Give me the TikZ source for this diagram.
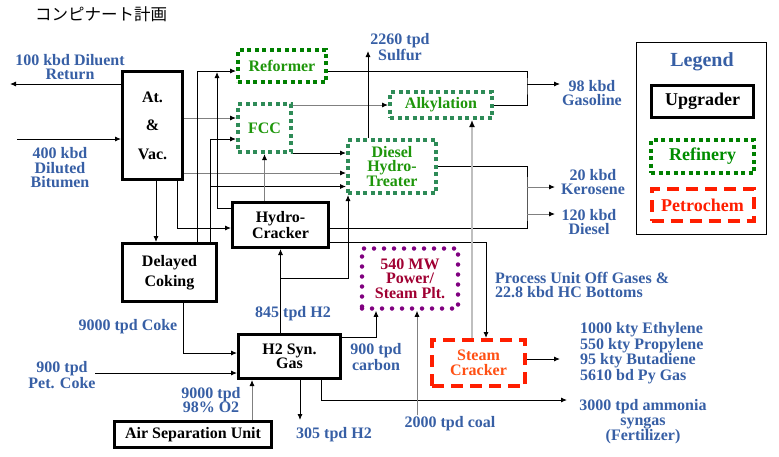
\documentclass[tikz,border=0pt]{standalone}
\usepackage{fontspec}
\setmainfont{Liberation Serif}
\newfontfamily\jpfont{Noto Sans CJK JP}
\usepackage{xcolor}
\usetikzlibrary{positioning,arrows.meta}

\definecolor{lblblue}{RGB}{55,95,165}
\definecolor{refgreen}{RGB}{0,128,0}
\definecolor{unitgreen}{RGB}{46,139,87}
\definecolor{txtgreen}{RGB}{30,150,10}
\definecolor{plantpurple}{RGB}{128,0,128}
\definecolor{planttext}{RGB}{160,0,50}
\definecolor{petred}{RGB}{255,30,0}
\definecolor{pettext}{RGB}{255,80,20}

\begin{document}
\begin{tikzpicture}[
  x=1pt, y=-1pt,
  every node/.style={font=\bfseries\fontsize{16}{14.5}\selectfont, align=center, inner sep=0pt},
  upg/.style={draw, line width=3pt},
  refy/.style={draw=refgreen, line width=4pt, dash pattern=on 4pt off 3.5pt, text=txtgreen},
  unit/.style={refy, draw=unitgreen},
  plant/.style={draw=plantpurple, line width=4.5pt, line cap=round, dash pattern=on 0pt off 10pt, text=planttext},
  petro/.style={draw=petred, line width=4pt, dash pattern=on 12pt off 7pt, text=pettext},
  lbl/.style={text=lblblue},
  arrow/.style={-{Latex[length=6pt,width=5pt]}, line width=0.9pt},
  garrow/.style={-{Latex[length=6pt,width=5pt,black]}, draw=gray, line width=0.9pt},
  larrow/.style={-{Latex[length=7pt,width=6pt,black]}, draw=black!25, line width=2.5pt}
]
\useasboundingbox (0,0) rectangle (779,456);

\node[font=\jpfont\fontsize{16.5}{16.5}\selectfont] (title) at (101,14) {コンピナート計画};

% units
\node[upg, minimum width=60pt, minimum height=108pt] (atv) at (152.5,125.5) {At.\\[14pt]\&\\[14pt]Vac.};
\node[refy, minimum width=88pt, minimum height=32pt] (ref) at (282,66) {Reformer};
\node[unit, minimum width=53pt, minimum height=48pt] (fcc) at (264.5,128) {FCC};
\node[unit, minimum width=102pt, minimum height=26pt] (alky) at (441,105) {Alkylation};
\node[unit, minimum width=88pt, minimum height=53pt] (dht) at (392,166.5) {Diesel\\Hydro-\\Treater};
\node[upg, minimum width=96pt, minimum height=45pt] (hc) at (280.5,225) {Hydro-\\Cracker};
\node[upg, minimum width=94pt, minimum height=58pt] (dc) at (169.5,272.5) {Delayed\\[4pt]Coking};
\node[plant, minimum width=96pt, minimum height=60pt] (pwr) at (410,278.5) {540 MW\\Power/\\Steam Plt.};
\node[upg, minimum width=102pt, minimum height=44pt] (h2) at (289.5,356.5) {H2 Syn.\\Gas};
\node[petro, minimum width=93pt, minimum height=46pt] (sc) at (478.5,363) {Steam\\Cracker};
\node[upg, minimum width=157pt, minimum height=26pt] (asu) at (193,434.5) {Air Separation Unit};

% legend
\node[draw, line width=1pt, minimum width=130pt, minimum height=192pt] (leg) at (701.5,138.5) {};
\node[lbl, font=\bfseries\fontsize{20}{20}\selectfont] (legtitle) at (702,62) {Legend};
\node[upg, minimum width=102pt, minimum height=32pt, font=\bfseries\fontsize{18}{18}\selectfont] (legupg) at (702.5,101.5) {Upgrader};
\node[refy, text=refgreen!90!green, minimum width=103pt, minimum height=33pt, font=\bfseries\fontsize{18}{18}\selectfont, below=19pt of legupg] (legref) {Refinery};
\node[petro, text=petred, minimum width=102pt, minimum height=32pt, font=\bfseries\fontsize{18}{18}\selectfont, below=12pt of legref] (legpet) {Petrochem};

% stream labels
\node[lbl] (dilret) at (70,67) {100 kbd Diluent\\Return};
\node[lbl] (bitu) at (60,168) {400 kbd\\Diluted\\Bitumen};
\node[lbl] (sulf) at (400,47) {2260 tpd\\Sulfur};
\node[lbl] (gaso) at (592,93) {98 kbd\\Gasoline};
\node[lbl] (kero) at (593,182) {20 kbd\\Kerosene};
\node[lbl] (dsl) at (589,222) {120 kbd\\Diesel};
\node[lbl, align=left, anchor=west] (offg) at (495,285) {Process Unit Off Gases \&\\22.8 kbd HC Bottoms};
\node[lbl, align=left, anchor=west] (prods) at (580,353) {1000 kty Ethylene\\550 kty Propylene\\95 kty Butadiene\\5610 bd Py Gas};
\node[lbl] (amm) at (643,422) {3000 tpd ammonia\\syngas\\(Fertilizer)};
\node[lbl] (coal) at (450,424) {2000 tpd coal};
\node[lbl] (h2out) at (334,435) {305 tpd H2};
\node[lbl] (oxy) at (211,400) {9000 tpd\\98\% O2};
\node[lbl] (petc) at (62,375) {900 tpd\\Pet. Coke};
\node[lbl] (coke) at (128,327) {9000 tpd Coke};
\node[lbl] (h2hc) at (293,314) {845 tpd H2};
\node[lbl] (carb) at (376,357) {900 tpd\\carbon};

% free ends and junctions
\coordinate (dilend) at (10,84);
\coordinate (bitstart) at (17,139);
\coordinate (sulfend) at (368,51);
\coordinate (gasbar) at (527,84);
\coordinate (gasend) at (560,84);
\coordinate (kerobar) at (527,187);
\coordinate (keroend) at (555,187);
\coordinate (dslbar) at (527,214);
\coordinate (dslend) at (555,214);
\coordinate (refjoin) at (217,72);
\coordinate (dcrail) at ([xshift=-8pt]dc.north east);
\coordinate (h2split) at (280,278);
\coordinate (prodend) at (560,359);
\coordinate (ammend) at (567,400);
\coordinate (petstart) at (95,373);
\coordinate (h2end) at (300,420);
\coordinate (coalstart) at (417,415);

% crude side
\draw[arrow] (atv.west |- dilend) -- (dilend);
\draw[arrow] (bitstart) -- (bitstart -| atv.west);
\draw[garrow] ([yshift=10pt]fcc.west -| atv.east) -- ([yshift=10pt]fcc.west);
\draw[garrow] ([yshift=-6.5pt]dht.west -| atv.east) -- ([yshift=-6.5pt]dht.west);
\draw[arrow] ([xshift=3.5pt]atv.south) -- ([xshift=3.5pt]atv.south |- dc.north);
\draw[arrow] ([xshift=-7pt]atv.south east) |- ([yshift=-3pt]hc.west);

% coker and cracker feeds
\draw[arrow] ([xshift=-21pt]dc.north east) |- ([yshift=-5pt]ref.west);
\draw[arrow] ([yshift=17pt]hc.west) -| (refjoin);
\draw[arrow] (dcrail) |- ([yshift=-11pt]fcc.west);
\draw[arrow] ([yshift=-20pt]dht.west -| dcrail) -- ([yshift=-20pt]dht.west);
\draw[arrow] ([yshift=13.5pt]dht.west -| fcc.east) -- ([yshift=13.5pt]dht.west);
\draw[garrow] (alky.west -| fcc.east) -- (alky.west);
\draw[garrow] (hc.north -| fcc.south) -- (fcc.south);
\draw[arrow] (dht.north -| sulfend) -- (sulfend);

% products
\draw[line width=0.9pt] ([yshift=-5pt]ref.east) -| (gasbar) |- (alky.east);
\draw[arrow] (gasbar) -- (gasend);
\draw[line width=0.9pt] (dht.east) -| (kerobar) -- (dslbar) |- ([yshift=-3pt]hc.east);
\draw[garrow] (kerobar) -- (keroend);
\draw[garrow] (dslbar) -- (dslend);
\draw[arrow] ([yshift=-17pt]hc.east) -| ([xshift=7.5pt]sc.north);
\draw[larrow] ([xshift=-6.5pt]sc.north) -- ([xshift=-6.5pt]sc.north |- alky.south);
\draw[arrow] (prodend -| sc.east) -- (prodend);

% gasifier
\draw[arrow] (h2.north -| hc.south) -- (hc.south);
\draw[arrow] (h2split) -| ([xshift=-44pt]dht.south);
\draw[arrow] ([xshift=13.5pt]dc.south) |- ([yshift=3.5pt]h2.west);
\draw[arrow] (petstart) -- (petstart -| h2.west);
\draw[garrow] ([xshift=59pt]asu.north) -- ([xshift=59pt]asu.north |- h2.south);
\draw[arrow] (h2.south -| h2end) -- (h2end);
\draw[arrow] ([xshift=31.5pt]h2.south) |- (ammend);
\draw[arrow] ([yshift=19.5pt]h2.east) -| ([xshift=-34pt]pwr.south);
\draw[garrow] (coalstart) -- (coalstart |- pwr.south);
\end{tikzpicture}
\end{document}
